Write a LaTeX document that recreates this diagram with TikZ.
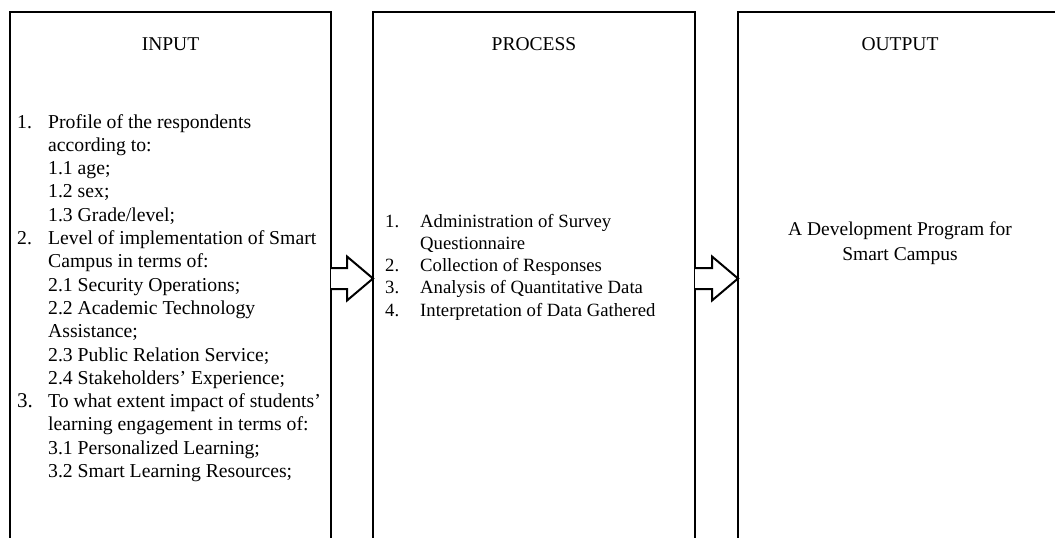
\documentclass[tikz,border=0pt]{standalone}
\usepackage{fontspec}
\setmainfont{Liberation Serif}
\usetikzlibrary{calc}
\tikzset{
  box/.style={draw=black, line width=2.2pt, rectangle, inner sep=0pt, outer sep=0pt, anchor=north west},
  title/.style={anchor=base, font=\fontsize{19.5}{23}\selectfont},
  blockarrow/.style={draw=black, line width=2pt, line join=miter, fill=white},
}
\newcommand{\blockarr}[2]{%
  \draw[blockarrow] let \p1=(#1), \p2=(#2) in
    (\x1,\y1+10.5pt) -- (\x2-26pt,\y1+10.5pt) -- (\x2-26pt,\y1+22pt) -- (\x2,\y2)
    -- (\x2-26pt,\y1-22pt) -- (\x2-26pt,\y1-10.5pt) -- (\x1,\y1-10.5pt);}
\begin{document}
\begin{tikzpicture}[x=1pt,y=-1pt]
\useasboundingbox (0,0) rectangle (1055,538);
% boxes
\node[box, minimum width=321pt, minimum height=545pt] (in) at (10,12) {};
\node[box, minimum width=322pt, minimum height=545pt] (proc) at (373,12) {};
\node[box, minimum width=324pt, minimum height=545pt] (out) at (738,12) {};
% titles
\path (in.north) ++(0,38) node[title] (tin) {INPUT};
\path (proc.north) ++(0,38) node[title] (tproc) {PROCESS};
\path (out.north) ++(0,38) node[title] (tout) {OUTPUT};
% input list
\node[anchor=base west, inner sep=0pt, font=\fontsize{19.7}{23.3}\selectfont] (inlist) at (17,128) {%
\begin{tabular}[t]{@{}p{31pt}@{}l@{}}
1. & Profile of the respondents\\
   & according to:\\
   & 1.1 age;\\
   & 1.2 sex;\\
   & 1.3 Grade/level;\\
2. & Level of implementation of Smart\\
   & Campus in terms of:\\
   & 2.1 Security Operations;\\
   & 2.2 Academic Technology\\
   & Assistance;\\
   & 2.3 Public Relation Service;\\
   & 2.4 Stakeholders’ Experience;\\
{\fontsize{21}{23.3}\selectfont 3.} & To what extent impact of students’\\
   & learning engagement in terms of:\\
   & 3.1 Personalized Learning;\\
   & 3.2 Smart Learning Resources;
\end{tabular}};
% process list
\node[anchor=base west, inner sep=0pt, font=\fontsize{18.7}{22.3}\selectfont] (proclist) at (385,227) {%
\begin{tabular}[t]{@{}p{35pt}@{}l@{}}
1. & Administration of Survey\\
   & Questionnaire\\
2. & Collection of Responses\\
3. & Analysis of Quantitative Data\\
4. & Interpretation of Data Gathered
\end{tabular}};
% output text
\node[anchor=base, inner sep=0pt, align=center, font=\fontsize{19.5}{24.5}\selectfont] (outtext) at (900,260) {A Development Program for\\Smart Campus};
% block arrows
\path (in.north east) ++(0,266.5) coordinate (a1s);
\path (proc.north west) ++(0,266.5) coordinate (a1t);
\path (proc.north east) ++(0,266.5) coordinate (a2s);
\path (out.north west) ++(0,266.5) coordinate (a2t);
\blockarr{a1s}{a1t}
\blockarr{a2s}{a2t}
\end{tikzpicture}
\end{document}
